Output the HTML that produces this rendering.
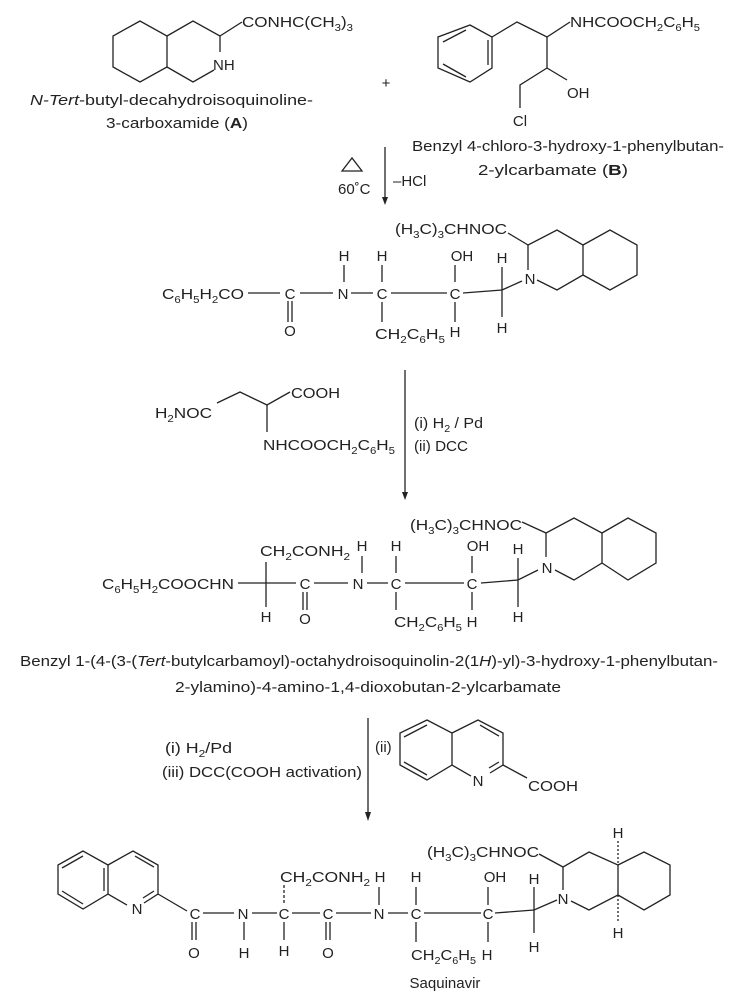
<!DOCTYPE html>
<html><head><meta charset="utf-8"><style>
html,body{margin:0;padding:0;background:#fff;}
svg{display:block;}
text{font-family:"Liberation Sans",sans-serif;font-size:15px;fill:#222;}
.s{font-size:10px;}
</style></head><body>
<svg width="732" height="1004" viewBox="0 0 732 1004" xmlns="http://www.w3.org/2000/svg">
<g stroke="#222" stroke-width="1.3" fill="none">
<!-- A -->
<polygon points="140,21 113,36 113,67 140,82 167,67 167,36"/>
<polyline points="167,36 193,21 220,36 220,52"/>
<polyline points="167,67 193,82 214,70"/>
<line x1="220" y1="36" x2="242" y2="22"/>
<!-- B -->
<polygon points="470,25 492,37 492,68 470,82 438,68 438,37"/>
<line x1="466" y1="30" x2="443" y2="42"/><line x1="443" y1="64" x2="466" y2="77"/><line x1="488" y1="40" x2="488" y2="65"/>
<polyline points="492,37 517,22 547,37 570,22"/>
<line x1="547" y1="37" x2="547" y2="68"/>
<line x1="547" y1="68" x2="567" y2="80"/>
<polyline points="547,68 520,85 520,108"/>
<!-- arrow1 -->
<line x1="385" y1="147" x2="385" y2="202"/>
<polygon points="342,171 352,158 362,171"/>
<!-- Int1 -->
<line x1="508" y1="233" x2="528" y2="245"/>
<polyline points="528,270 528,245 557,230 583,245 583,275 557,290 537,280"/>
<polyline points="583,245 610,230 637,245 637,275 610,290 583,275"/>
<line x1="248" y1="293" x2="280" y2="293"/>
<line x1="300" y1="293" x2="333" y2="293"/>
<line x1="351" y1="293" x2="373" y2="293"/>
<line x1="391" y1="293" x2="447" y2="293"/>
<polyline points="463,293 502,290 522,281"/>
<line x1="502" y1="267" x2="502" y2="317"/>
<line x1="344" y1="265" x2="344" y2="282"/>
<line x1="382" y1="265" x2="382" y2="282"/>
<line x1="382" y1="302" x2="382" y2="322"/>
<line x1="455" y1="265" x2="455" y2="282"/>
<line x1="455" y1="302" x2="455" y2="322"/>
<line x1="288" y1="301" x2="288" y2="322"/><line x1="292" y1="301" x2="292" y2="322"/>
<!-- reagent 2 -->
<polyline points="217,403 240,392 267,405 290,392"/>
<line x1="267" y1="405" x2="267" y2="432"/>
<line x1="405" y1="370" x2="405" y2="496"/>
<!-- Int2 -->
<line x1="522" y1="522" x2="546" y2="533"/>
<polyline points="546,557 546,533 574,518 602,533 602,563 574,580 555,570"/>
<polyline points="602,533 628,518 656,533 656,563 628,580 602,563"/>
<line x1="238" y1="583" x2="296" y2="583"/>
<line x1="266" y1="562" x2="266" y2="607"/>
<line x1="314" y1="583" x2="348" y2="583"/>
<line x1="367" y1="583" x2="388" y2="583"/>
<line x1="405" y1="583" x2="464" y2="583"/>
<polyline points="481,583 518,580 538,570"/>
<line x1="518" y1="558" x2="518" y2="607"/>
<line x1="362" y1="556" x2="362" y2="573"/>
<line x1="396" y1="556" x2="396" y2="573"/>
<line x1="396" y1="592" x2="396" y2="610"/>
<line x1="472" y1="556" x2="472" y2="573"/>
<line x1="472" y1="592" x2="472" y2="610"/>
<line x1="303" y1="592" x2="303" y2="610"/><line x1="307" y1="592" x2="307" y2="610"/>
<!-- arrow3 -->
<line x1="368" y1="718" x2="368" y2="816"/>
<!-- quinoline acid -->
<polygon points="427,720 400,733 400,765 427,780 452,765 452,733"/>
<line x1="427" y1="725" x2="404" y2="737"/><line x1="404" y1="762" x2="427" y2="775"/>
<polyline points="452,733 478,720 503,733 503,765 490,773"/>
<line x1="452" y1="765" x2="471" y2="776"/>
<line x1="480" y1="725" x2="499" y2="736"/><line x1="499" y1="762" x2="489" y2="768"/>
<line x1="503" y1="765" x2="527" y2="778"/>
<!-- final quinoline -->
<polygon points="83,851 58,865 58,894 83,909 108,894 108,865"/>
<line x1="83" y1="856" x2="62" y2="868"/><line x1="62" y1="891" x2="83" y2="904"/><line x1="104" y1="868" x2="104" y2="891"/>
<polyline points="108,865 133,851 158,865 158,894 144,903"/>
<line x1="108" y1="894" x2="127" y2="905"/>
<line x1="135" y1="856" x2="154" y2="867"/><line x1="154" y1="891" x2="143" y2="898"/>
<line x1="158" y1="894" x2="187" y2="911"/>
<line x1="203" y1="913" x2="234" y2="913"/>
<line x1="252" y1="913" x2="277" y2="913"/>
<line x1="292" y1="913" x2="320" y2="913"/>
<line x1="336" y1="913" x2="371" y2="913"/>
<line x1="388" y1="913" x2="408" y2="913"/>
<line x1="424" y1="913" x2="481" y2="913"/>
<polyline points="495,913 534,910 557,900"/>
<line x1="534" y1="887" x2="534" y2="933"/>
<line x1="192" y1="922" x2="192" y2="940"/><line x1="196" y1="922" x2="196" y2="940"/>
<line x1="326" y1="922" x2="326" y2="940"/><line x1="330" y1="922" x2="330" y2="940"/>
<line x1="244" y1="922" x2="244" y2="940"/>
<line x1="284" y1="922" x2="284" y2="940"/>
<line x1="284" y1="885" x2="284" y2="905" stroke-dasharray="3,2"/>
<line x1="379" y1="887" x2="379" y2="905"/>
<line x1="416" y1="887" x2="416" y2="905"/>
<line x1="416" y1="922" x2="416" y2="942"/>
<line x1="488" y1="887" x2="488" y2="905"/>
<line x1="488" y1="922" x2="488" y2="942"/>
<line x1="539" y1="854" x2="563" y2="867"/>
<polyline points="563,890 563,867 589,852 618,865 618,895 589,910 571,901"/>
<polyline points="618,865 644,852 670,865 670,895 644,910 618,895"/>
<line x1="618" y1="841" x2="618" y2="865" stroke-dasharray="2,2"/>
<line x1="618" y1="895" x2="618" y2="922" stroke-dasharray="2,2"/>
</g>
<g fill="#222">
<polygon points="382,197 388,197 385,205"/>
<polygon points="402,492 408,492 405,500"/>
<polygon points="365,812 371,812 368,821"/>
</g>
<!-- A text -->
<text x="242" y="27" textLength="111" lengthAdjust="spacingAndGlyphs">CONHC(CH<tspan class="s" dy="4">3</tspan><tspan dy="-4">)</tspan><tspan class="s" dy="4">3</tspan></text>
<text x="213" y="70">NH</text>
<text x="30" y="105" textLength="283" lengthAdjust="spacingAndGlyphs"><tspan font-style="italic">N-Tert</tspan>-butyl-decahydroisoquinoline-</text>
<text x="106" y="128" textLength="142" lengthAdjust="spacingAndGlyphs">3-carboxamide (<tspan font-weight="bold">A</tspan>)</text>
<text x="386" y="88" text-anchor="middle">+</text>
<!-- B text -->
<text x="570" y="27" textLength="130" lengthAdjust="spacingAndGlyphs">NHCOOCH<tspan class="s" dy="4">2</tspan><tspan dy="-4">C</tspan><tspan class="s" dy="4">6</tspan><tspan dy="-4">H</tspan><tspan class="s" dy="4">5</tspan></text>
<text x="567" y="98">OH</text>
<text x="520" y="126" text-anchor="middle">Cl</text>
<text x="412" y="151" textLength="312" lengthAdjust="spacingAndGlyphs">Benzyl 4-chloro-3-hydroxy-1-phenylbutan-</text>
<text x="478" y="175" textLength="150" lengthAdjust="spacingAndGlyphs">2-ylcarbamate (<tspan font-weight="bold">B</tspan>)</text>
<text x="338" y="194" font-size="14">60˚C</text>
<text x="393" y="186" font-size="14">–HCl</text>
<!-- Int1 text -->
<text x="395" y="234" textLength="112" lengthAdjust="spacingAndGlyphs">(H<tspan class="s" dy="4">3</tspan><tspan dy="-4">C)</tspan><tspan class="s" dy="4">3</tspan><tspan dy="-4">CHNOC</tspan></text>
<text x="530" y="284" text-anchor="middle">N</text>
<text x="502" y="263" text-anchor="middle">H</text>
<text x="502" y="333" text-anchor="middle">H</text>
<text x="162" y="299" textLength="82" lengthAdjust="spacingAndGlyphs">C<tspan class="s" dy="4">6</tspan><tspan dy="-4">H</tspan><tspan class="s" dy="4">5</tspan><tspan dy="-4">H</tspan><tspan class="s" dy="4">2</tspan><tspan dy="-4">CO</tspan></text>
<text x="290" y="299" text-anchor="middle">C</text>
<text x="343" y="299" text-anchor="middle">N</text>
<text x="382" y="299" text-anchor="middle">C</text>
<text x="455" y="299" text-anchor="middle">C</text>
<text x="344" y="261" text-anchor="middle">H</text>
<text x="382" y="261" text-anchor="middle">H</text>
<text x="462" y="261" text-anchor="middle">OH</text>
<text x="290" y="336" text-anchor="middle">O</text>
<text x="375" y="339" textLength="70" lengthAdjust="spacingAndGlyphs">CH<tspan class="s" dy="4">2</tspan><tspan dy="-4">C</tspan><tspan class="s" dy="4">6</tspan><tspan dy="-4">H</tspan><tspan class="s" dy="4">5</tspan></text>
<text x="455" y="337" text-anchor="middle">H</text>
<!-- reagent 2 text -->
<text x="155" y="418" textLength="57" lengthAdjust="spacingAndGlyphs">H<tspan class="s" dy="4">2</tspan><tspan dy="-4">NOC</tspan></text>
<text x="291" y="398" textLength="49" lengthAdjust="spacingAndGlyphs">COOH</text>
<text x="263" y="450" textLength="132" lengthAdjust="spacingAndGlyphs">NHCOOCH<tspan class="s" dy="4">2</tspan><tspan dy="-4">C</tspan><tspan class="s" dy="4">6</tspan><tspan dy="-4">H</tspan><tspan class="s" dy="4">5</tspan></text>
<text x="414" y="428" textLength="69" lengthAdjust="spacingAndGlyphs">(i) H<tspan class="s" dy="4">2</tspan><tspan dy="-4"> / Pd</tspan></text>
<text x="414" y="451" textLength="54" lengthAdjust="spacingAndGlyphs">(ii) DCC</text>
<!-- Int2 text -->
<text x="410" y="530" textLength="112" lengthAdjust="spacingAndGlyphs">(H<tspan class="s" dy="4">3</tspan><tspan dy="-4">C)</tspan><tspan class="s" dy="4">3</tspan><tspan dy="-4">CHNOC</tspan></text>
<text x="547" y="573" text-anchor="middle">N</text>
<text x="518" y="554" text-anchor="middle">H</text>
<text x="518" y="622" text-anchor="middle">H</text>
<text x="102" y="589" textLength="132" lengthAdjust="spacingAndGlyphs">C<tspan class="s" dy="4">6</tspan><tspan dy="-4">H</tspan><tspan class="s" dy="4">5</tspan><tspan dy="-4">H</tspan><tspan class="s" dy="4">2</tspan><tspan dy="-4">COOCHN</tspan></text>
<text x="260" y="556" textLength="90" lengthAdjust="spacingAndGlyphs">CH<tspan class="s" dy="4">2</tspan><tspan dy="-4">CONH</tspan><tspan class="s" dy="4">2</tspan></text>
<text x="362" y="551" text-anchor="middle">H</text>
<text x="396" y="551" text-anchor="middle">H</text>
<text x="478" y="551" text-anchor="middle">OH</text>
<text x="305" y="589" text-anchor="middle">C</text>
<text x="358" y="589" text-anchor="middle">N</text>
<text x="396" y="589" text-anchor="middle">C</text>
<text x="472" y="589" text-anchor="middle">C</text>
<text x="266" y="622" text-anchor="middle">H</text>
<text x="305" y="624" text-anchor="middle">O</text>
<text x="394" y="627" textLength="68" lengthAdjust="spacingAndGlyphs">CH<tspan class="s" dy="4">2</tspan><tspan dy="-4">C</tspan><tspan class="s" dy="4">6</tspan><tspan dy="-4">H</tspan><tspan class="s" dy="4">5</tspan></text>
<text x="472" y="627" text-anchor="middle">H</text>
<text x="20" y="666" textLength="698" lengthAdjust="spacingAndGlyphs">Benzyl 1-(4-(3-(<tspan font-style="italic">Tert</tspan>-butylcarbamoyl)-octahydroisoquinolin-2(1<tspan font-style="italic">H</tspan>)-yl)-3-hydroxy-1-phenylbutan-</text>
<text x="175" y="692" textLength="386" lengthAdjust="spacingAndGlyphs">2-ylamino)-4-amino-1,4-dioxobutan-2-ylcarbamate</text>
<!-- arrow3 text -->
<text x="165" y="753" textLength="67" lengthAdjust="spacingAndGlyphs">(i) H<tspan class="s" dy="4">2</tspan><tspan dy="-4">/Pd</tspan></text>
<text x="162" y="777" textLength="200" lengthAdjust="spacingAndGlyphs">(iii) DCC(COOH activation)</text>
<text x="375" y="752" font-size="14">(ii)</text>
<text x="478" y="786" text-anchor="middle" font-size="14">N</text>
<text x="528" y="791" textLength="50" lengthAdjust="spacingAndGlyphs">COOH</text>
<!-- final -->
<text x="137" y="914" text-anchor="middle" font-size="14">N</text>
<text x="195" y="919" text-anchor="middle">C</text>
<text x="243" y="919" text-anchor="middle">N</text>
<text x="284" y="919" text-anchor="middle">C</text>
<text x="328" y="919" text-anchor="middle">C</text>
<text x="379" y="919" text-anchor="middle">N</text>
<text x="416" y="919" text-anchor="middle">C</text>
<text x="488" y="919" text-anchor="middle">C</text>
<text x="194" y="958" text-anchor="middle">O</text>
<text x="244" y="958" text-anchor="middle">H</text>
<text x="284" y="956" text-anchor="middle">H</text>
<text x="328" y="958" text-anchor="middle">O</text>
<text x="280" y="882" textLength="90" lengthAdjust="spacingAndGlyphs">CH<tspan class="s" dy="4">2</tspan><tspan dy="-4">CONH</tspan><tspan class="s" dy="4">2</tspan></text>
<text x="380" y="882" text-anchor="middle">H</text>
<text x="416" y="882" text-anchor="middle">H</text>
<text x="495" y="882" text-anchor="middle">OH</text>
<text x="534" y="884" text-anchor="middle">H</text>
<text x="534" y="952" text-anchor="middle">H</text>
<text x="411" y="960" textLength="65" lengthAdjust="spacingAndGlyphs">CH<tspan class="s" dy="4">2</tspan><tspan dy="-4">C</tspan><tspan class="s" dy="4">6</tspan><tspan dy="-4">H</tspan><tspan class="s" dy="4">5</tspan></text>
<text x="487" y="960" text-anchor="middle">H</text>
<text x="427" y="857" textLength="112" lengthAdjust="spacingAndGlyphs">(H<tspan class="s" dy="4">3</tspan><tspan dy="-4">C)</tspan><tspan class="s" dy="4">3</tspan><tspan dy="-4">CHNOC</tspan></text>
<text x="563" y="904" text-anchor="middle">N</text>
<text x="618" y="838" text-anchor="middle">H</text>
<text x="618" y="938" text-anchor="middle">H</text>
<text x="445" y="988" text-anchor="middle">Saquinavir</text>
</svg>
</body></html>
